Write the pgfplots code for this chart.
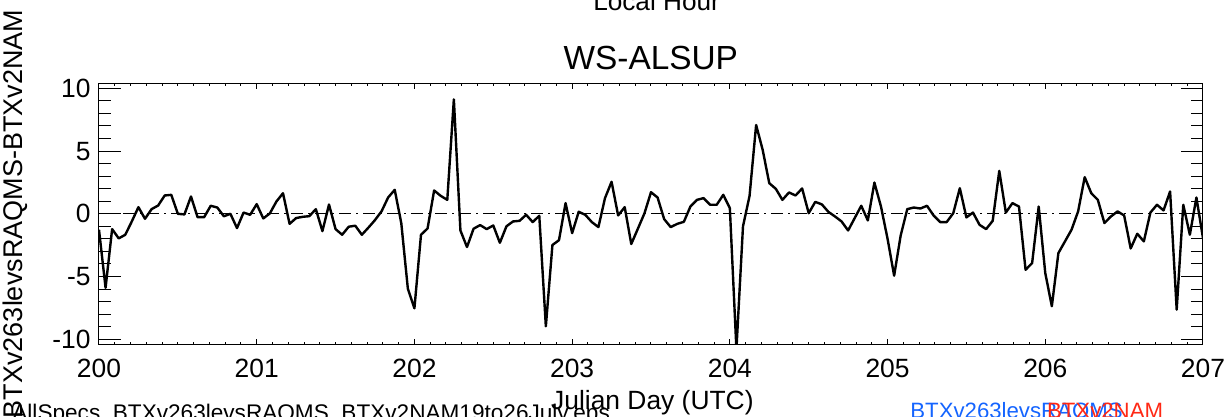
\documentclass[border=0pt]{standalone}
\usepackage{pgfplots}
\pgfplotsset{compat=1.18}
\usepackage{pgfplotstable}
\usepackage{fontspec}
\setmainfont{Liberation Sans}
\definecolor{lblue}{RGB}{20,100,255}
\definecolor{lred}{RGB}{255,40,20}
\pgfplotstableread{
h v
0 -1.27
1 -5.9
2 -1.22
3 -1.96
4 -1.67
5 -0.6
6 0.53
7 -0.4
8 0.37
9 0.66
10 1.46
11 1.51
12 0
13 -0.05
14 1.38
15 -0.27
16 -0.27
17 0.64
18 0.5
19 -0.2
20 0
21 -1.14
22 0.1
23 -0.08
24 0.77
25 -0.37
26 0.03
27 0.98
28 1.64
29 -0.8
30 -0.34
31 -0.24
32 -0.19
33 0.37
34 -1.38
35 0.74
36 -1.22
37 -1.67
38 -1.03
39 -0.95
40 -1.67
41 -1.1
42 -0.5
43 0.2
44 1.3
45 1.91
46 -0.74
47 -5.97
48 -7.53
49 -1.67
50 -1.17
51 1.86
52 1.43
53 1.11
54 9.12
55 -1.33
56 -2.65
57 -1.19
58 -0.9
59 -1.22
60 -0.93
61 -2.31
62 -1.0
63 -0.61
64 -0.56
65 -0.08
66 -0.66
67 -0.16
68 -8.97
69 -2.49
70 -2.1
71 0.85
72 -1.54
73 0.16
74 -0.08
75 -0.66
76 -1.06
77 1.25
78 2.55
79 -0.13
80 0.53
81 -2.41
82 -1.19
83 0.03
84 1.72
85 1.3
86 -0.42
87 -1.06
88 -0.8
89 -0.64
90 0.58
91 1.11
92 1.25
93 0.72
94 0.72
95 1.51
96 0.45
97 -10.8
98 -1.0
99 1.43
100 7.08
101 5.09
102 2.44
103 1.99
104 1.11
105 1.7
106 1.46
107 2.02
108 0.05
109 0.95
110 0.75
111 0.15
112 -0.21
113 -0.61
114 -1.33
115 -0.34
116 0.64
117 -0.53
118 2.49
119 0.58
120 -1.99
121 -4.93
122 -1.72
123 0.37
124 0.5
125 0.42
126 0.64
127 -0.13
128 -0.66
129 -0.66
130 0.05
131 2.04
132 -0.29
133 0.1
134 -0.88
135 -1.22
136 -0.56
137 3.42
138 0.1
139 0.85
140 0.58
141 -4.46
142 -3.93
143 0.58
144 -4.72
145 -7.37
146 -3.13
147 -2.2
148 -1.27
149 0.19
150 2.92
151 1.64
152 1.11
153 -0.74
154 -0.21
155 0.19
156 -0.13
157 -2.76
158 -1.59
159 -2.2
160 0.1
161 0.72
162 0.27
163 1.78
164 -7.64
165 0.72
166 -1.67
167 1.3
168 -1.94
}\wsdata
\begin{document}
\begin{tikzpicture}
\begin{axis}[
  at={(49.5pt,36.35pt)}, anchor=south west,
  scale only axis, width=552pt, height=130.5pt,
  xmin=200, xmax=207, ymin=-10.4, ymax=10.4,
  axis line style={black, line width=0.5pt},
  xtick={200,201,202,203,204,205,206,207},
  xticklabels={200,201,202,203,204,205,206,207},
  ytick={-10,-5,0,5,10},
  yticklabels={-10,-5,0,5,10},
  minor x tick num=9,
  minor y tick num=4,
  tick align=inside,
  xtick pos=both, ytick pos=both,
  xticklabel pos=lower, yticklabel pos=left,
  xtick style={black, line width=0.5pt, /pgfplots/major tick length=2.8pt, /pgfplots/minor tick length=1.2pt},
  ytick style={black, line width=0.5pt, /pgfplots/major tick length=11pt, /pgfplots/minor tick length=6pt},
  ticklabel style={font=\fontsize{13.2}{15}\selectfont},
  xticklabel style={anchor=base, inner sep=0pt, yshift=-16.85pt},
  yticklabel style={anchor=east, inner sep=0pt, xshift=-4pt},
  clip=true,
]
\addplot[black, line width=0.5pt, dash pattern=on 6pt off 2.5pt on 1pt off 2.5pt] coordinates {(200,0) (207,0)};
\addplot[black, line width=1.2pt, line join=round] table[x expr=200+\thisrow{h}/24, y=v] {\wsdata};
\end{axis}
\node[anchor=base, inner sep=0pt, font=\fontsize{16.7}{19}\selectfont] at (325.4pt,173.5pt) {WS-ALSUP};
\node[anchor=base, inner sep=0pt, font=\fontsize{13.1}{15}\selectfont] at (328.3pt,203pt) {Local Hour};
\node[anchor=base, inner sep=0pt, font=\fontsize{13.2}{15}\selectfont] at (326.2pt,3.85pt) {Julian Day (UTC)};
\node[anchor=base, inner sep=0pt, rotate=90, font=\fontsize{13.5}{15}\selectfont] at (11pt,101.5pt) {BTXv263levsRAQMS-BTXv2NAM};
\node[anchor=base west, inner sep=0pt, font=\fontsize{11.3}{13}\selectfont] at (6pt,-2pt) {AllSpecs\_BTXv263levsRAQMS\_BTXv2NAM19to26July.eps};
\node[anchor=base west, inner sep=0pt, text=lblue, font=\fontsize{11.1}{13}\selectfont] at (455pt,-1pt) {BTXv263levsRAQMS};
\node[anchor=base west, inner sep=0pt, text=lred, font=\fontsize{11.1}{13}\selectfont] at (523.35pt,-1pt) {BTXv2NAM};
\pgfresetboundingbox
\useasboundingbox (0,0) rectangle (613.5pt,208.5pt);
\end{tikzpicture}
\end{document}
